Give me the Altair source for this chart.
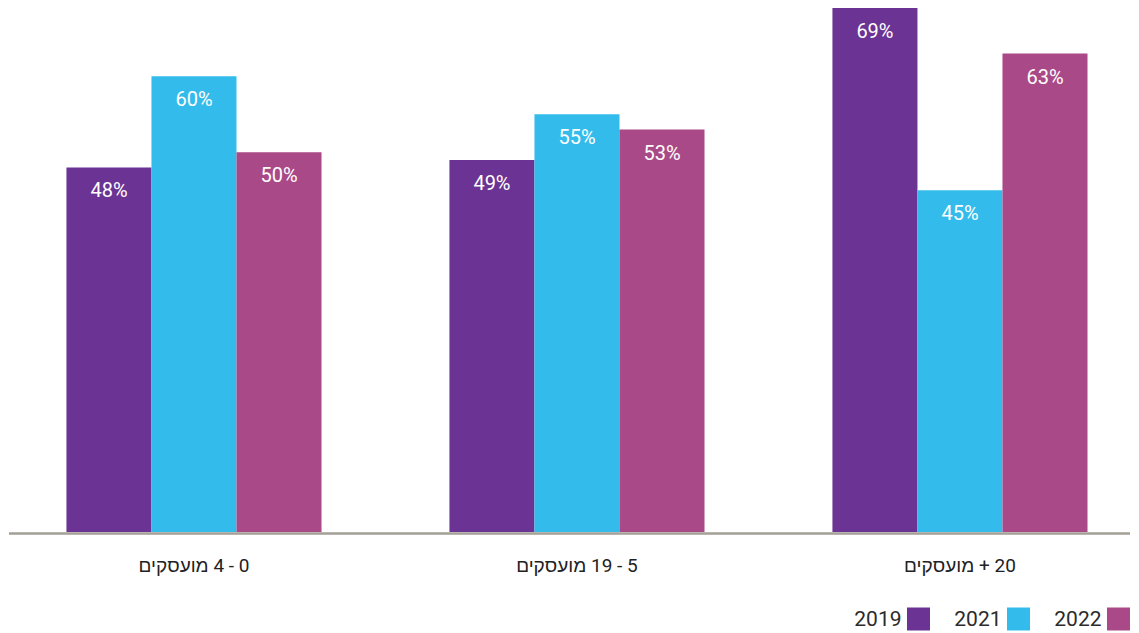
import altair as alt
import pandas as pd

groups = ["0 - 4 מועסקים", "5 - 19 מועסקים", "20 + מועסקים"]
years = ["2019", "2021", "2022"]
v2019 = [48, 49, 69]
v2021 = [60, 55, 45]
v2022 = [50, 53, 63]
colors = ["#6B3393", "#33BCEB", "#AA4987"]

RLE, PDF = "\u202b", "\u202c"
order = [RLE + g + PDF for g in groups]

rows = []
for i, g in enumerate(order):
    for yr, vals in zip(years, [v2019, v2021, v2022]):
        rows.append({"group": g, "year": yr, "value": vals[i], "label": f"{vals[i]}%"})
df = pd.DataFrame(rows)

W, H = 1122, 623
BASE_Y = 524
FONT = "Roboto, 'Liberation Sans', sans-serif"

x = alt.X(
    "group:N",
    sort=order,
    scale=alt.Scale(paddingInner=0.334, paddingOuter=0.1318, align=0.579),
    axis=None,
)
xo = alt.XOffset("year:N", sort=years, scale=alt.Scale(paddingInner=0, paddingOuter=0))
yscale = alt.Scale(domain=[0, 69], range=[BASE_Y, 0], nice=False, zero=True)
y = alt.Y("value:Q", scale=yscale, axis=None)
color = alt.Color("year:N", scale=alt.Scale(domain=years, range=colors), legend=None)

base = alt.Chart(df)
bars = base.mark_bar().encode(x=x, xOffset=xo, y=y, color=color)
labels = base.mark_text(color="white", fontSize=20, baseline="middle", dy=24, font=FONT).encode(
    x=x, xOffset=xo, y=y, text="label:N"
)

grp_df = pd.DataFrame({"group": order})
axis_labels = alt.Chart(grp_df).mark_text(
    fontSize=19, color="#222222", baseline="middle", font=FONT
).encode(x=x, y=alt.value(BASE_Y + 34), text="group:N")

rule = alt.Chart(pd.DataFrame({"value": [0]})).mark_rule(
    color="#a39f97", strokeWidth=2.5, yOffset=1.5
).encode(x=alt.value(1), x2=alt.value(W), y=alt.Y("value:Q", scale=yscale, axis=None))

leg_df = pd.DataFrame({"year": years})
lx = alt.X("year:N", sort=years,
           scale=alt.Scale(type="point", range=[910.5, 1110.5], padding=0), axis=None)
leg_sq = alt.Chart(leg_df).mark_square(size=529, opacity=1).encode(
    x=lx, y=alt.value(H - 12), color=color
)
leg_tx = alt.Chart(leg_df).mark_text(
    align="right", dx=-17, fontSize=21, color="#2b2b2b", baseline="middle", font=FONT
).encode(x=lx, y=alt.value(H - 11), text="year:N")

main = alt.layer(bars, labels, axis_labels, rule)
legend = alt.layer(leg_sq, leg_tx)

chart = alt.layer(main, legend).resolve_scale(x="independent").properties(
    width=W, height=H, background="white", padding=0,
    autosize=alt.AutoSizeParams(type="none"),
).configure_view(stroke=None)

chart.save("out.html", embed_options={"renderer": "svg", "actions": False})
